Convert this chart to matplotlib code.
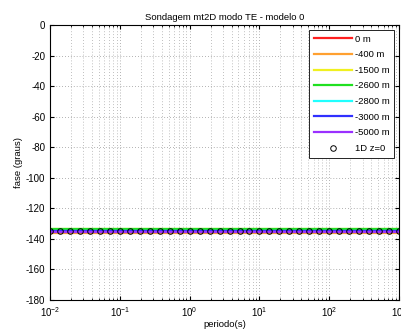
import numpy as np
import matplotlib
matplotlib.use('Agg')
import matplotlib.pyplot as plt

plt.rcParams['font.family'] = ['Liberation Sans', 'DejaVu Sans']
plt.rcParams['axes.unicode_minus'] = False

# periods (s) of the sounding
periodo = [0.01, 0.0139, 0.0193, 0.0268, 0.0373, 0.0518, 0.0720,
           0.1, 0.139, 0.193, 0.268, 0.373, 0.518, 0.720,
           1.0, 1.39, 1.93, 2.68, 3.73, 5.18, 7.20,
           10.0, 13.9, 19.3, 26.8, 37.3, 51.8, 72.0,
           100.0, 139.0, 193.0, 268.0, 373.0, 518.0, 720.0, 1000.0]

nomes = ['0 m', '-400 m', '-1500 m', '-2600 m', '-2800 m', '-3000 m', '-5000 m']
cores = ['#ff2020', '#ffa030', '#f0f020', '#20e020', '#20ffff', '#3030ff', '#9a30ff']
# phase level of each 2D curve (degrees)
fase_2d = [-135.6, -136.0, -133.4, -133.8, -134.6, -135.0, -135.2]
fase_1d = [-135.0] * len(periodo)

fig = plt.figure(figsize=(4.01, 3.31), dpi=100)
ax = fig.add_axes([0.125, 0.094, 0.87, 0.83])

for nome, cor, f in zip(nomes, cores, fase_2d):
    ax.semilogx(periodo, [f] * len(periodo), '-', color=cor, lw=1.6, label=nome)
ax.semilogx(periodo, fase_1d, 'o', mfc='none', mec='black', ms=4, mew=0.7, label='1D z=0')

ax.set_xlim(1e-2, 1e3)
ax.set_ylim(-180, 0)
ax.set_yticks(np.arange(-180, 1, 20))
ax.grid(True, which='major', ls=(0, (1, 2.5)), color='#999999', lw=0.6)
ax.grid(True, which='minor', axis='x', ls=(0, (1, 2.5)), color='#aaaaaa', lw=0.6)
ax.tick_params(direction='in', which='both', top=True, right=True, labelsize=7)
ax.tick_params(which='major', length=3)
ax.tick_params(which='minor', length=1.5)

ax.set_title('Sondagem mt2D modo TE - modelo 0', fontsize=6.8, pad=4)
ax.set_xlabel('periodo(s)', fontsize=6.8, labelpad=1)
ax.set_ylabel('fase (graus)', fontsize=6.8, labelpad=2)

leg = ax.legend(loc='upper right', fontsize=6.8, fancybox=False, framealpha=1,
                edgecolor='black', handlelength=4.0, labelspacing=0.7,
                borderpad=0.5, handletextpad=0.3, borderaxespad=0.5)
leg.get_frame().set_linewidth(0.6)

fig.savefig('out.png', dpi=100)
